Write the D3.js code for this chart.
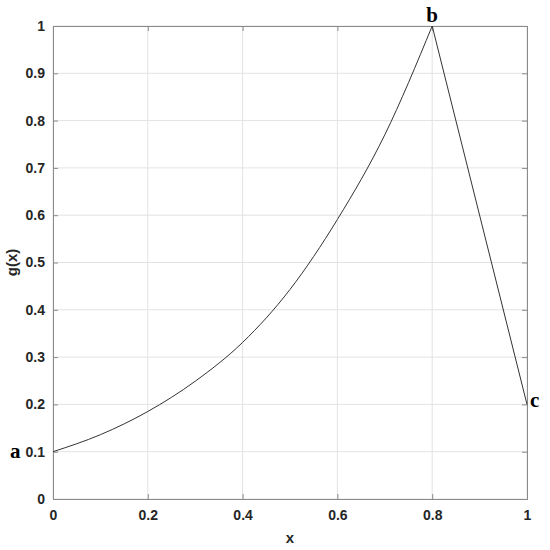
<!DOCTYPE html>
<html>
<head>
<meta charset="utf-8">
<script src="https://cdn.jsdelivr.net/npm/d3@7"></script>
<style>
  body { margin: 0; background: #fff; }
  .tick text { font-family: "Liberation Sans", Arial, sans-serif; font-weight: bold; font-size: 14px; fill: #262626; }
</style>
</head>
<body>
<svg width="550" height="550"></svg>
<script>
// curve
const curveX = [0, 0.1, 0.2, 0.3, 0.4, 0.5, 0.6, 0.7, 0.8];
const curveY = [0.1, 0.136, 0.185, 0.249, 0.331, 0.443, 0.591, 0.77, 1.0];
// falling straight segment
const lineX = [0.8, 1.0];
const lineY = [1.0, 0.2];
const xTicks = [0, 0.2, 0.4, 0.6, 0.8, 1];
const yTicks = [0, 0.1, 0.2, 0.3, 0.4, 0.5, 0.6, 0.7, 0.8, 0.9, 1];
const pointNames = ["a", "b", "c"];
const pointX = [0, 0.8, 1];
const pointY = [0.1, 1, 0.2];

const margin = { top: 26, right: 23, bottom: 51, left: 53 },
    w = 550 - margin.left - margin.right,
    h = 550 - margin.top - margin.bottom;

const svg = d3.select("svg");
const g = svg.append("g").attr("transform", `translate(${margin.left}, ${margin.top})`);

const x = d3.scaleLinear().domain([0, 1]).range([0, w]);
const y = d3.scaleLinear().domain([0, 1]).range([h, 0]);

// grid
g.append("g").selectAll("line").data(xTicks).enter().append("line")
    .attr("x1", d => x(d)).attr("x2", d => x(d))
    .attr("y1", 0).attr("y2", h)
    .attr("stroke", "#e3e3e3").attr("stroke-width", 1);
g.append("g").selectAll("line").data(yTicks).enter().append("line")
    .attr("y1", d => y(d)).attr("y2", d => y(d))
    .attr("x1", 0).attr("x2", w)
    .attr("stroke", "#e3e3e3").attr("stroke-width", 1);

// axes, ticks pointing inward
const xAxis = g.append("g").attr("transform", `translate(0, ${h})`)
    .call(d3.axisBottom(x).tickValues(xTicks).tickSize(-5).tickPadding(11).tickFormat(d3.format("")));
const yAxis = g.append("g")
    .call(d3.axisLeft(y).tickValues(yTicks).tickSize(-5).tickPadding(8).tickFormat(d3.format("")));
g.append("g")
    .call(d3.axisTop(x).tickValues(xTicks).tickSize(-5).tickFormat(""));
g.append("g").attr("transform", `translate(${w}, 0)`)
    .call(d3.axisRight(y).tickValues(yTicks).tickSize(-5).tickFormat(""));
g.selectAll(".domain, .tick line").attr("stroke", "#8a8a8a");

// curve
g.append("path")
    .datum(curveX.map((d, i) => [d, curveY[i]]))
    .attr("d", d3.line().x(d => x(d[0])).y(d => y(d[1])).curve(d3.curveMonotoneX))
    .attr("fill", "none").attr("stroke", "#333").attr("stroke-width", 1);
g.append("path")
    .datum(lineX.map((d, i) => [d, lineY[i]]))
    .attr("d", d3.line().x(d => x(d[0])).y(d => y(d[1])))
    .attr("fill", "none").attr("stroke", "#333").attr("stroke-width", 1);

// point labels
const off = [[-43, 6], [0, -4], [3, 3]];
const anchors = ["start", "middle", "start"];
g.selectAll(".plabel").data(pointNames).enter().append("text")
    .attr("class", "plabel")
    .attr("x", (d, i) => x(pointX[i]) + off[i][0])
    .attr("y", (d, i) => y(pointY[i]) + off[i][1])
    .attr("text-anchor", (d, i) => anchors[i])
    .style("font-family", "'Liberation Serif', 'Times New Roman', serif")
    .style("font-weight", "bold")
    .style("font-size", "21px")
    .text(d => d);

// axis labels
g.append("text")
    .attr("x", w / 2).attr("y", h + 44)
    .attr("text-anchor", "middle")
    .style("font-family", "'Liberation Sans', Arial, sans-serif")
    .style("font-weight", "bold").style("font-size", "15px").attr("fill", "#262626")
    .text("x");
g.append("text")
    .attr("x", -h / 2).attr("y", -36)
    .attr("transform", "rotate(-90)")
    .attr("text-anchor", "middle")
    .style("font-family", "'Liberation Sans', Arial, sans-serif")
    .style("font-weight", "bold").style("font-size", "15px").attr("fill", "#262626")
    .text("g(x)");
</script>
</body>
</html>
